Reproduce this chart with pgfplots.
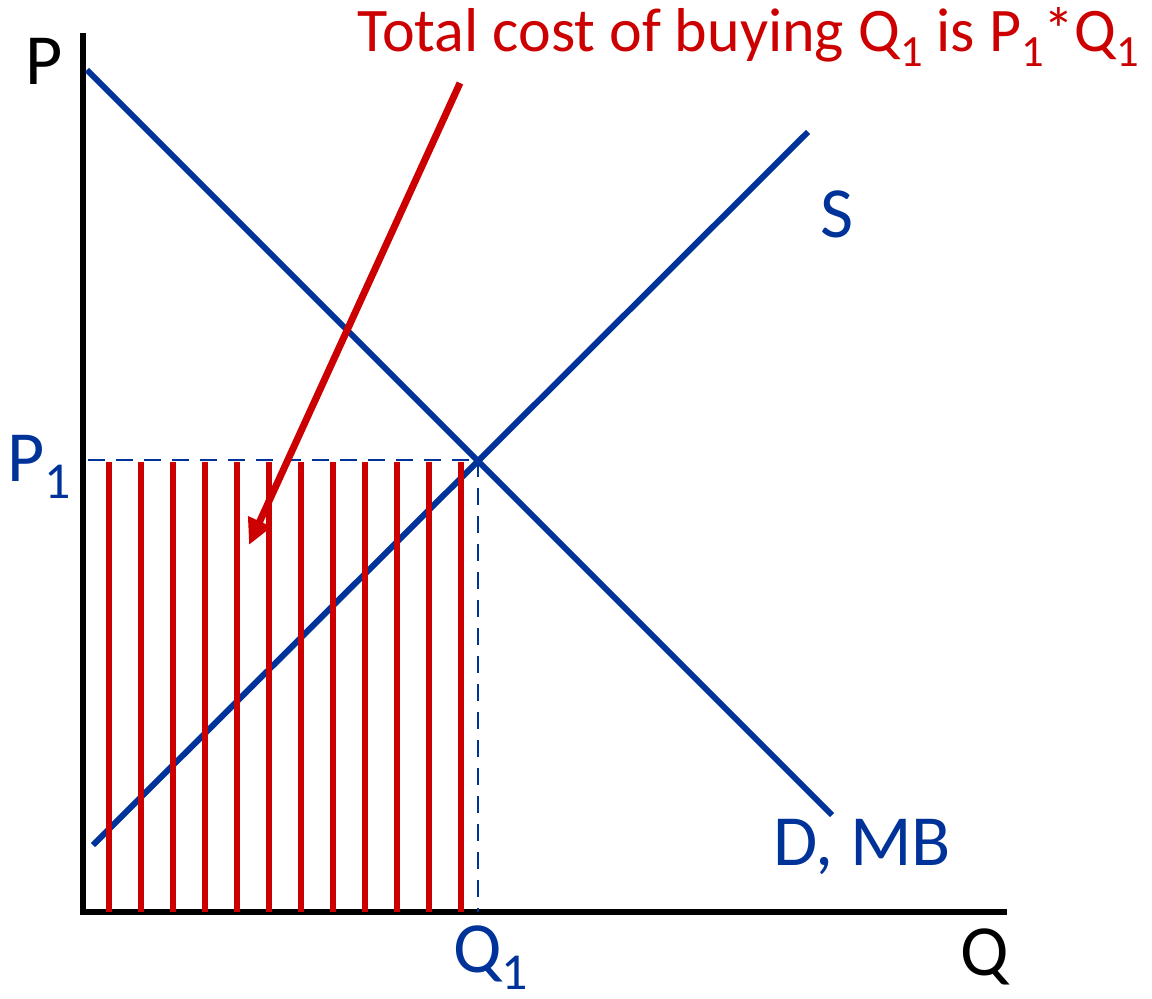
\documentclass[border=0pt]{standalone}
\usepackage{fontspec}
\setmainfont{Carlito}
\usepackage{graphicx}
\usepackage{pgfplots}
\pgfplotsset{compat=1.18}
\usetikzlibrary{arrows.meta}
\definecolor{sdblue}{HTML}{003399}
\definecolor{costred}{HTML}{CC0000}
% lowered, smaller subscript digit
\newcommand{\sub}[1]{\raisebox{-0.24em}{\scalebox{0.72}{#1}}}

\begin{document}
\begin{tikzpicture}
\begin{axis}[
  scale only axis,
  width=460.5pt, height=438pt,
  xmin=0, xmax=921, ymin=0, ymax=876,
  axis lines=left,
  axis line style={-, line width=3.2pt, line cap=rect, black},
  xtick=\empty, ytick=\empty,
  clip=false,
]
% demand (marginal benefit) and supply
\addplot[sdblue, line width=3pt, line cap=butt] coordinates {(4,842) (749,97)};
\addplot[sdblue, line width=3pt, line cap=butt] coordinates {(10,67) (725,780)};
% equilibrium guides
\addplot[sdblue, line width=1pt, dash pattern=on 8.5pt off 5.5pt] coordinates {(5,452) (395,452)};
\addplot[sdblue, line width=1pt, dash pattern=on 8.5pt off 5.5pt] coordinates {(395,452) (395,0)};
% area P1*Q1 hatched by vertical strokes
\addplot[ycomb, costred, line width=3.2pt, no marks] coordinates {
  (26,450) (58,450) (90,450) (122,450) (154,450) (186,450)
  (218,450) (250,450) (282,450) (314,450) (346,450) (378,450)};
% pointer from the caption to the area
\addplot[costred, line width=3.5pt, -{Triangle[length=13pt,width=12pt]}] coordinates {(377,829) (166,367)};

\node[anchor=base west, text=costred, font=\fontsize{31}{36}\selectfont, inner sep=0pt]
  at (axis cs:274,860) {Total cost of buying Q\sub{1} is P\sub{1}*Q\sub{1}};
\node[anchor=base west, text=black, font=\fontsize{36}{40}\selectfont, inner sep=0pt]
  at (axis cs:-58,827) {P};
\node[anchor=base west, text=black, font=\fontsize{36}{40}\selectfont, inner sep=0pt]
  at (axis cs:877,-63) {Q};
\node[anchor=base west, text=sdblue, font=\fontsize{36}{40}\selectfont, inner sep=0pt]
  at (axis cs:737,675) {S};
\node[anchor=base west, text=sdblue, font=\fontsize{36}{40}\selectfont, inner sep=0pt]
  at (axis cs:690,47) {D, MB};
\node[anchor=base west, text=sdblue, font=\fontsize{36}{40}\selectfont, inner sep=0pt]
  at (axis cs:-76,431) {P\sub{1}};
\node[anchor=base west, text=sdblue, font=\fontsize{36}{40}\selectfont, inner sep=0pt]
  at (axis cs:370,-60) {Q\sub{1}};

\coordinate (bl) at (axis cs:-83,-86);
\coordinate (tr) at (axis cs:1069,912);
\end{axis}
\pgfresetboundingbox
\useasboundingbox (bl) rectangle (tr);
\end{tikzpicture}
\end{document}
